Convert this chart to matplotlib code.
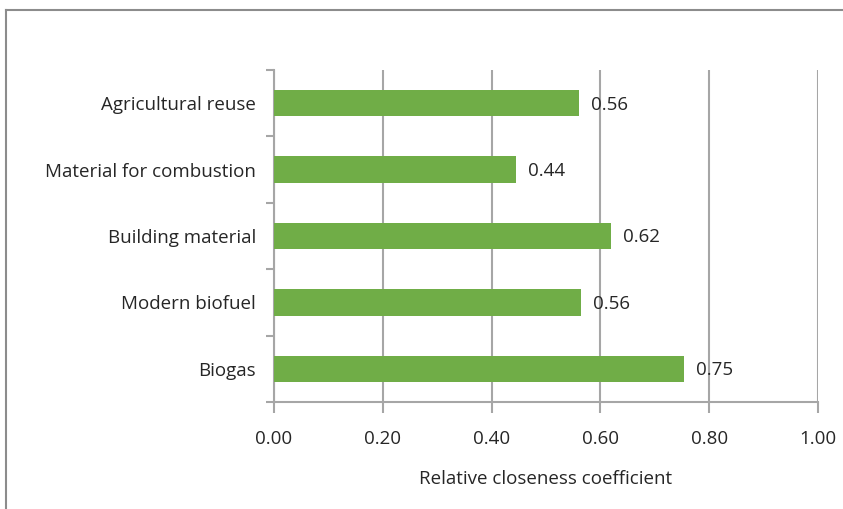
import matplotlib
matplotlib.use("Agg")
import matplotlib.pyplot as plt
from matplotlib.lines import Line2D
import numpy as np

categories = ["Agricultural reuse", "Material for combustion", "Building material",
              "Modern biofuel", "Biogas"]
values = [0.56, 0.444, 0.62, 0.564, 0.754]
xticks = [0.0, 0.2, 0.4, 0.6, 0.8, 1.0]
xlabel = "Relative closeness coefficient"

plt.rcParams['font.family'] = ['Open Sans', 'DejaVu Sans']
FS = 13.5
W, H = 843, 509
fig = plt.figure(figsize=(W / 100, H / 100), dpi=100)
ax = fig.add_axes([274 / W, 1 - 402 / H, (818 - 274) / W, (402 - 70) / H])

grid_c = '#A6A6A6'
text_c = '#262626'
n = len(categories)
ypos = np.arange(n)[::-1]
ax.barh(ypos, values, height=0.4, color='#70AD47', zorder=3)
for y, v in zip(ypos, values):
    ax.text(v + 0.022, y - 0.02, f"{v:.2f}", va='center', ha='left', fontsize=FS,
            color=text_c, zorder=4)

ax.set_xlim(0, 1.0)
ax.set_ylim(-0.5, n - 0.5)
ax.set_xticks(xticks)
ax.set_xticklabels([f"{t:.2f}" for t in xticks], fontsize=FS, color=text_c)
ax.set_yticks(ypos)
ax.set_yticklabels(categories, fontsize=FS, color=text_c)
ax.set_yticks(np.arange(-0.5, n, 1.0), minor=True)
ax.tick_params(axis='y', which='major', length=0, pad=13)
ax.tick_params(axis='y', which='minor', length=6, width=1.5, color=grid_c, direction='out')
ax.tick_params(axis='x', which='major', length=8, width=1.5, color=grid_c, direction='out', pad=12)
ax.xaxis.grid(True, color=grid_c, linewidth=1.5, zorder=0)
ax.set_axisbelow(True)
for s in ['top', 'right']:
    ax.spines[s].set_visible(False)
for s in ['left', 'bottom']:
    ax.spines[s].set_color(grid_c)
    ax.spines[s].set_linewidth(1.5)
ax.set_xlabel(xlabel, fontsize=FS, color=text_c, labelpad=16)

# figure border
fig.add_artist(Line2D([6 / W, 1.0], [1 - 10 / H, 1 - 10 / H], color='#8C8C8C', linewidth=1.5,
                      transform=fig.transFigure))
fig.add_artist(Line2D([6 / W, 6 / W], [0, 1 - 10 / H], color='#8C8C8C', linewidth=1.5,
                      transform=fig.transFigure))

fig.savefig("out.png", dpi=100)
